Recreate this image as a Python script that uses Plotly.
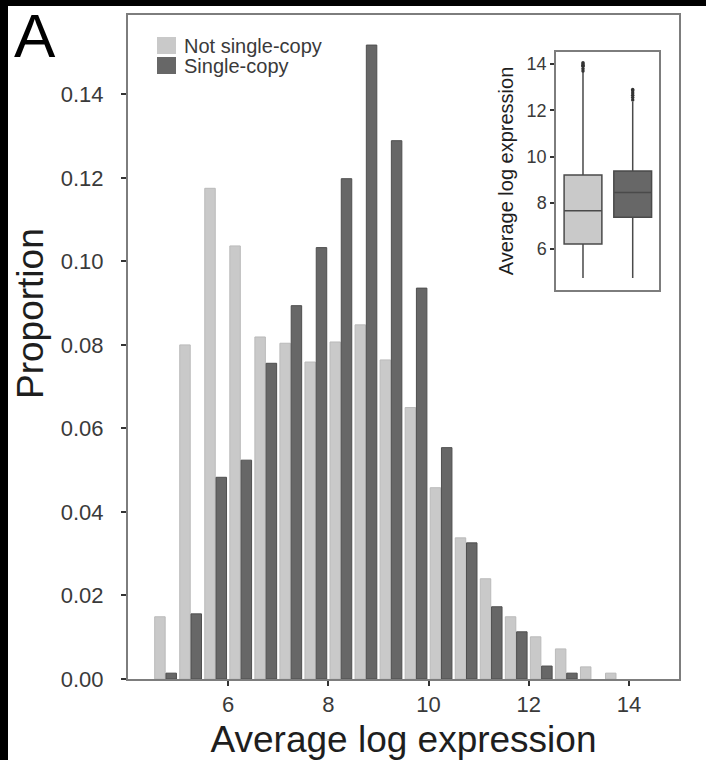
import plotly.graph_objects as go

# ---------------- data ----------------
bin_centers = [4.75, 5.25, 5.75, 6.25, 6.75, 7.25, 7.75, 8.25, 8.75, 9.25,
               9.75, 10.25, 10.75, 11.25, 11.75, 12.25, 12.75, 13.25, 13.75]
not_single = [0.0149, 0.0800, 0.1175, 0.1037, 0.0819, 0.0804, 0.0759, 0.0807, 0.0848, 0.0764,
              0.0650, 0.0458, 0.0338, 0.0240, 0.0149, 0.0101, 0.0072, 0.0029, 0.0014]
single = [0.0014, 0.0156, 0.0483, 0.0524, 0.0756, 0.0894, 0.1033, 0.1198, 0.1518, 0.1289,
          0.0936, 0.0554, 0.0326, 0.0173, 0.0113, 0.0031, 0.0014, None, None]
series_names = ["Not single-copy", "Single-copy"]

x_ticks = [6, 8, 10, 12, 14]
y_ticks = [0.00, 0.02, 0.04, 0.06, 0.08, 0.10, 0.12, 0.14]
inset_ticks = [6, 8, 10, 12, 14]

# inset box-plot statistics (Average log expression)
box_q1 = [6.22, 7.37]
box_median = [7.66, 8.45]
box_q3 = [9.20, 9.37]
box_low = [4.75, 4.75]
box_high = [13.65, 12.37]
outliers_not_single = [13.7, 13.8, 13.9, 13.95, 14.0, 14.05]
outliers_single = [12.45, 12.55, 12.65, 12.75, 12.85, 12.9]

# ---------------- styling ----------------
LIGHT = "#c9c9c9"
LIGHT_EDGE = "#bababa"
DARK = "#676767"
DARK_EDGE = "#4f4f4f"
FRAME = "#7d7d7d"
TXT = "#3a3a3a"
FONT = "Liberation Sans, Arial, sans-serif"

W, H = 706, 760
L, R, T, B = 128, 27, 15, 81
PW, PH = W - L - R, H - T - B


def px(x):
    return (x - L) / PW


def py(y):
    return (H - B - y) / PH


fig = go.Figure()

fig.add_trace(go.Bar(x=bin_centers, y=not_single, name=series_names[0],
                     marker=dict(color=LIGHT, line=dict(color=LIGHT_EDGE, width=1)),
                     showlegend=False))
fig.add_trace(go.Bar(x=bin_centers, y=single, name=series_names[1],
                     marker=dict(color=DARK, line=dict(color=DARK_EDGE, width=1)),
                     showlegend=False))

# inset box plots
fills = [LIGHT, DARK]
outs = [outliers_not_single, outliers_single]
for i in range(2):
    fig.add_trace(go.Box(x=[i], q1=[box_q1[i]], median=[box_median[i]], q3=[box_q3[i]],
                         lowerfence=[box_low[i]], upperfence=[box_high[i]],
                         fillcolor=fills[i], line=dict(color="#4a4a4a", width=1.5),
                         width=0.76, whiskerwidth=0, boxpoints=False,
                         xaxis="x2", yaxis="y2", showlegend=False, name=series_names[i]))
    fig.add_trace(go.Scatter(x=[i] * len(outs[i]), y=outs[i], mode="markers",
                             marker=dict(color="#333333", size=3.5),
                             xaxis="x2", yaxis="y2", showlegend=False, hoverinfo="y"))

shapes = [
    # black scan borders
    dict(type="rect", xref="paper", yref="paper", x0=px(-5), x1=px(W + 5), y0=py(6), y1=py(-5),
         fillcolor="black", line=dict(width=0), layer="above"),
    dict(type="rect", xref="paper", yref="paper", x0=px(-5), x1=px(8), y0=py(H + 5), y1=py(-5),
         fillcolor="black", line=dict(width=0), layer="above"),
    # legend swatches
    dict(type="rect", xref="paper", yref="paper", x0=px(157), x1=px(176), y0=py(54), y1=py(37),
         fillcolor=LIGHT, line=dict(width=0)),
    dict(type="rect", xref="paper", yref="paper", x0=px(157), x1=px(176), y0=py(74), y1=py(57),
         fillcolor=DARK, line=dict(width=0)),
]

annotations = [
    dict(text="A", x=px(12), y=py(36), xref="paper", yref="paper", xanchor="left", yanchor="middle",
         showarrow=False, font=dict(family=FONT, size=62, color="black")),
    dict(text="Proportion", x=px(30), y=py(314), xref="paper", yref="paper", xanchor="center",
         yanchor="middle", textangle=-90, showarrow=False,
         font=dict(family=FONT, size=37, color="#1e1e1e")),
    dict(text=series_names[0], x=px(182), y=py(46), xref="paper", yref="paper", xanchor="left",
         yanchor="middle", showarrow=False, font=dict(family=FONT, size=20, color=TXT)),
    dict(text=series_names[1], x=px(182), y=py(66), xref="paper", yref="paper", xanchor="left",
         yanchor="middle", showarrow=False, font=dict(family=FONT, size=20, color=TXT)),
]

fig.update_layout(
    width=W, height=H,
    margin=dict(l=L, r=R, t=T, b=B, pad=0),
    paper_bgcolor="white", plot_bgcolor="white",
    barmode="group", bargap=0.1, bargroupgap=0.07,
    font=dict(family=FONT, color=TXT),
    shapes=shapes, annotations=annotations,
    xaxis=dict(range=[4.0, 15.0], tickmode="array", tickvals=x_ticks,
               ticktext=[str(v) for v in x_ticks], automargin=False,
               showgrid=False, zeroline=False, showline=True, mirror=True,
               linecolor=FRAME, linewidth=2, ticks="outside", ticklen=5, tickwidth=2,
               tickcolor="#333333", tickfont=dict(size=22, color=TXT),
               title=dict(text="Average log expression", standoff=10,
                          font=dict(size=37, color="#1e1e1e"))),
    yaxis=dict(range=[0, 0.159], tickmode="array", tickvals=y_ticks,
               ticktext=[f"{v:.2f}" for v in y_ticks], automargin=False,
               showgrid=False, zeroline=False, showline=True, mirror=True,
               linecolor=FRAME, linewidth=2, ticks="outside", ticklen=5, tickwidth=2,
               tickcolor="#333333", tickfont=dict(size=22, color=TXT), ticklabelstandoff=13),
    xaxis2=dict(domain=[px(556), px(659)], anchor="y2", range=[-0.543, 1.529],
                showticklabels=False, ticks="", showgrid=False, zeroline=False,
                showline=True, mirror=True, linecolor=FRAME, linewidth=1.5),
    yaxis2=dict(domain=[py(290), py(52)], anchor="x2", range=[4.23, 14.52],
                tickmode="array", tickvals=inset_ticks, ticktext=[str(v) for v in inset_ticks],
                showgrid=False, zeroline=False, showline=True, mirror=True,
                linecolor=FRAME, linewidth=1.5, ticks="outside", ticklen=4, tickwidth=1.5,
                tickcolor="#333333", tickfont=dict(size=18, color=TXT),
                title=dict(text="Average log expression", standoff=8,
                           font=dict(size=20, color="#1e1e1e"))),
)

fig.write_html("out.html")
